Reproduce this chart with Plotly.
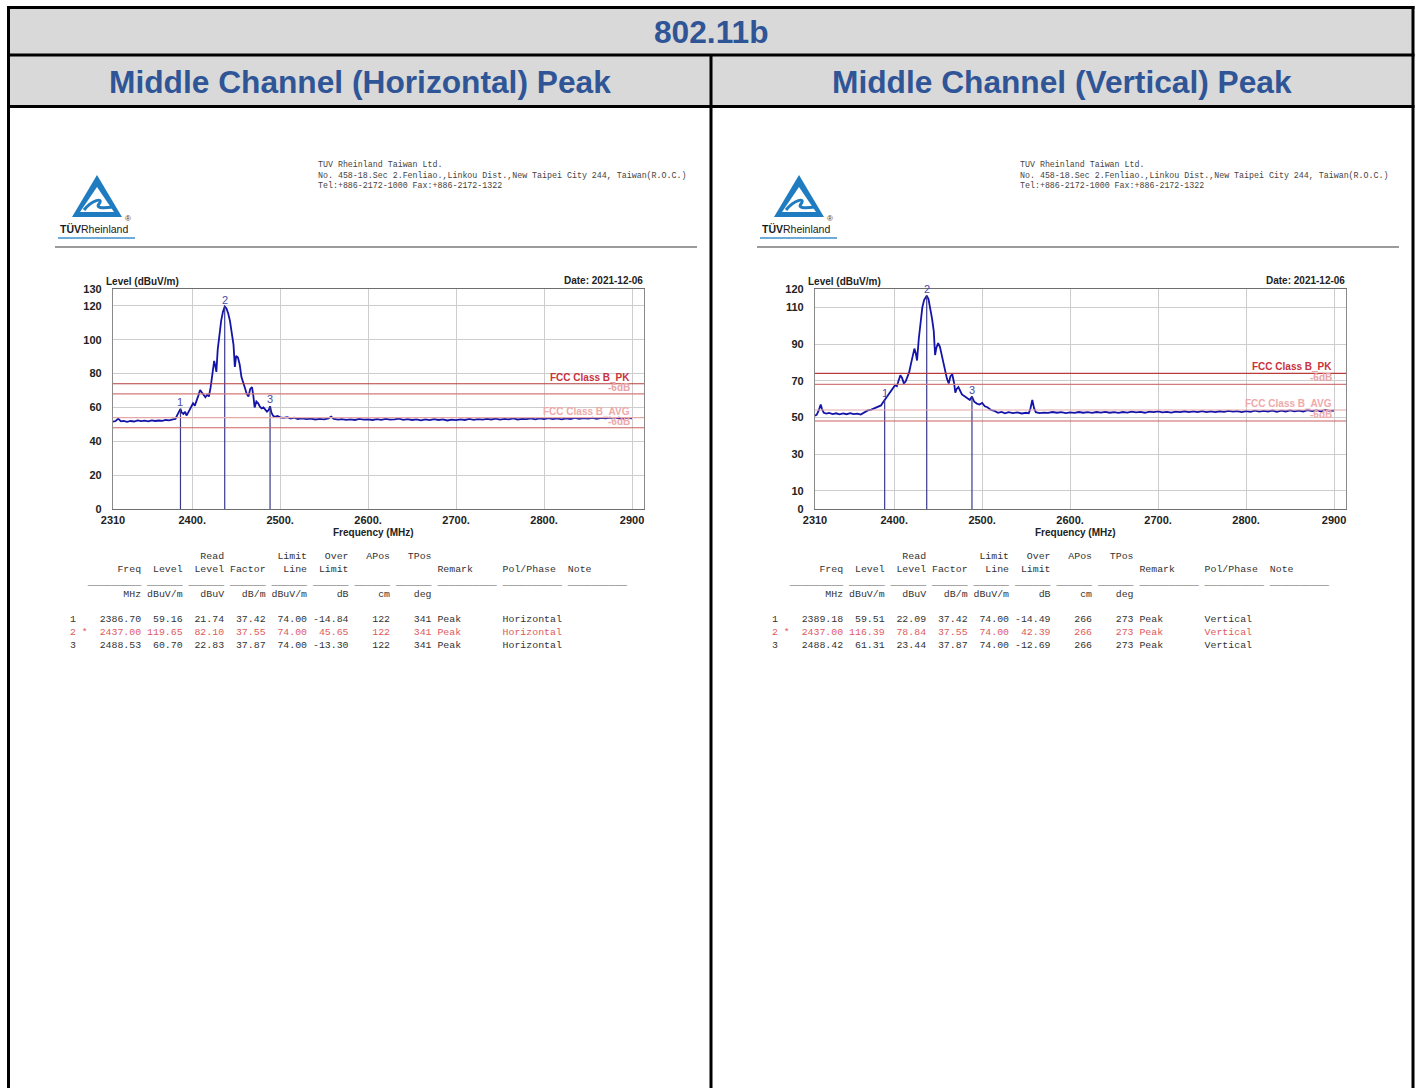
import plotly.graph_objects as go

W, H = 1416, 1088

# ---------------- spectrum data ----------------
freq_h = [2310, 2313, 2316, 2319, 2322, 2326, 2330, 2334, 2338, 2342, 2346, 2350, 2354, 2358,
          2362, 2366, 2370, 2374, 2378, 2381, 2383, 2385, 2386.7, 2388, 2390, 2392, 2393.5, 2395,
          2397, 2399, 2401, 2403, 2405, 2407, 2409, 2411, 2413, 2415, 2417, 2419, 2421, 2423,
          2425, 2426.5, 2427.5, 2429, 2431, 2433, 2435, 2437, 2439, 2441, 2443, 2445, 2447,
          2448.5, 2450, 2452, 2454, 2456, 2458, 2460, 2462, 2464, 2466, 2468, 2469.5, 2471,
          2473, 2475, 2477, 2479, 2481, 2483, 2485, 2487, 2488.53, 2490, 2492, 2494, 2497,
          2500, 2504, 2508, 2512, 2516, 2520, 2525, 2530, 2535, 2540, 2545, 2550, 2555, 2558,
          2561, 2566, 2570, 2575, 2580, 2585, 2590, 2595, 2600, 2605, 2610, 2615, 2620, 2625,
          2630, 2635, 2640, 2645, 2650, 2655, 2660, 2665, 2670, 2675, 2680, 2685, 2690, 2695,
          2700, 2705, 2710, 2715, 2720, 2725, 2730, 2735, 2740, 2745, 2750, 2755, 2760, 2765,
          2770, 2775, 2780, 2785, 2790, 2795, 2800, 2805, 2810, 2815, 2820, 2825, 2830, 2835,
          2840, 2845, 2850, 2855, 2860, 2865, 2870, 2875, 2880, 2885, 2890, 2895, 2900]
level_h = [51.6, 52.0, 53.4, 51.8, 52.1, 51.5, 52.0, 51.7, 52.3, 51.9, 52.2, 51.8, 52.4, 52.0,
           52.3, 52.1, 52.6, 52.4, 53.0, 53.2, 55.5, 57.5, 59.16, 57.0, 56.2, 57.5, 55.3, 56.5,
           58.5, 60.5, 62.5, 61.0, 63.5, 67.0, 70.3, 69.0, 67.5, 66.0, 67.5, 66.5, 72.0, 79.0,
           87.5, 84.0, 81.0, 94.0, 104.0, 111.5, 116.5, 119.65, 118.5, 115.5, 111.0, 104.5, 97.0,
           84.0, 90.5, 89.5, 85.5, 78.0, 74.0, 71.5, 68.0, 66.5, 71.0, 72.0, 67.0, 60.0,
           63.5, 62.5, 60.5, 59.5, 60.0, 58.5, 57.5, 58.5, 60.70, 57.0, 55.0, 54.5, 55.0,
           54.2, 53.8, 54.3, 53.5, 54.0, 53.2, 53.6, 53.1, 53.4, 52.9, 53.3, 53.0, 53.6, 54.6,
           53.2, 52.8, 53.1, 52.7, 53.0, 52.6, 53.2, 52.8, 53.0, 52.6, 53.1, 52.7, 53.3, 52.8,
           53.0, 53.4, 52.7, 53.1, 52.6, 53.0, 52.4, 52.9, 52.5, 53.1, 52.6, 52.9, 52.3, 52.8,
           52.5, 53.0, 52.6, 53.2, 52.7, 53.1, 52.8, 53.3, 52.9, 53.4, 52.8, 53.2, 53.0, 53.5,
           52.9, 53.3, 53.1, 53.6, 53.0, 53.5, 53.2, 53.7, 53.1, 53.5, 53.0, 53.6, 53.2, 53.8,
           53.3, 53.7, 53.4, 53.9, 53.3, 53.8, 53.5, 54.0, 53.6, 53.9, 53.4, 53.8, 53.5]

freq_v = [2310, 2312, 2314, 2316.5, 2318, 2320, 2323, 2326, 2330, 2334, 2338, 2342, 2346, 2350,
          2354, 2358, 2362, 2366, 2370, 2374, 2378, 2382, 2385, 2387, 2389.18, 2391, 2393, 2395,
          2397, 2399, 2401, 2403, 2405, 2407, 2409, 2411, 2413, 2415, 2417, 2419, 2421, 2423,
          2424.5, 2426, 2428, 2430, 2432, 2434, 2437, 2439, 2441, 2443, 2445, 2446.5, 2448,
          2450, 2452, 2454, 2456, 2458, 2460, 2462, 2464, 2466, 2468, 2469.5, 2471, 2473, 2475,
          2477, 2480, 2483, 2486, 2488.42, 2491, 2494, 2497, 2500, 2503, 2506, 2510, 2514, 2518,
          2522, 2526, 2530, 2535, 2540, 2545, 2550, 2553, 2555, 2557, 2559, 2561, 2565, 2570,
          2575, 2580, 2585, 2590, 2595, 2600, 2605, 2610, 2615, 2620, 2625, 2630, 2635, 2640,
          2645, 2650, 2655, 2660, 2665, 2670, 2675, 2680, 2685, 2690, 2695, 2700, 2705, 2710,
          2715, 2720, 2725, 2730, 2735, 2740, 2745, 2750, 2755, 2760, 2765, 2770, 2775, 2780,
          2785, 2790, 2795, 2800, 2805, 2810, 2815, 2820, 2825, 2830, 2835, 2840, 2845, 2850,
          2855, 2860, 2865, 2870, 2875, 2880, 2885, 2890, 2895, 2900]
level_v = [50.8, 51.5, 53.5, 57.0, 54.5, 52.5, 52.0, 52.4, 51.8, 52.2, 51.6, 52.1, 51.7, 52.3,
           51.8, 52.0, 51.5, 52.6, 53.8, 54.2, 55.0, 55.6, 56.5, 58.0, 59.51, 60.5, 62.0, 63.5,
           64.5, 66.0, 67.5, 67.0, 70.0, 73.0, 71.5, 68.5, 69.5, 72.5, 74.5, 79.0, 83.0, 87.5,
           85.0, 81.0, 93.0, 103.0, 110.0, 114.0, 116.39, 114.5, 110.0, 104.0, 97.0, 84.0, 88.0,
           90.5, 88.5, 84.0, 79.0, 74.5, 71.0, 68.5, 72.5, 73.5, 69.0, 63.5, 65.5, 66.5, 64.5,
           62.5, 61.5, 60.5, 59.5, 61.31, 58.5, 57.5, 57.0, 57.8, 56.0, 55.5, 54.0, 53.5, 52.5,
           53.0, 52.2, 52.8, 52.3, 52.7, 52.1, 52.5, 52.2, 55.0, 59.5, 55.0, 52.8, 52.3, 52.6,
           52.4, 52.9, 52.5, 52.8, 52.3, 52.7, 52.4, 52.9, 52.5, 52.8, 52.4, 52.9, 52.6, 53.0,
           52.5, 52.8, 52.4, 52.9, 52.6, 53.1, 52.7, 53.0, 52.5, 53.1, 52.8, 53.2, 52.7, 53.0,
           52.6, 53.1, 52.8, 53.3, 52.9, 53.2, 52.8, 53.4, 52.9, 53.2, 52.8, 53.3, 53.0, 53.5,
           53.1, 53.4, 52.9, 53.4, 53.0, 53.6, 53.1, 53.5, 53.2, 53.7, 53.0, 53.6, 53.2, 53.8,
           53.3, 53.7, 53.2, 53.9, 53.4, 53.8, 53.3, 54.0, 53.5, 53.7]

# ---------------- marker table data ----------------
mk_freq_h = [2386.70, 2437.00, 2488.53]
mk_level_h = [59.16, 119.65, 60.70]
mk_read_h = [21.74, 82.10, 22.83]
mk_over_h = [-14.84, 45.65, -13.30]
apos_h, tpos_h = 122, 341

mk_freq_v = [2389.18, 2437.00, 2488.42]
mk_level_v = [59.51, 116.39, 61.31]
mk_read_v = [22.09, 78.84, 23.44]
mk_over_v = [-14.49, 42.39, -12.69]
apos_v, tpos_v = 266, 273

mk_factor = [37.42, 37.55, 37.87]
mk_limit = [74.00, 74.00, 74.00]

limit_lines = [74, 68, 54, 48]
limit_colors = ["#b83c3c", "#d47a7a", "#e6a8a8", "#cc6060"]

xtick_vals = [2310, 2400, 2500, 2600, 2700, 2800, 2900]
xtick_text = ["2310", "2400.", "2500.", "2600.", "2700.", "2800.", "2900"]
ytick_h = [0, 20, 40, 60, 80, 100, 120, 130]
ytick_v = [0, 10, 30, 50, 70, 90, 110, 120]

BLUE_TITLE = "#2f5597"
SANS = "Liberation Sans, Arial, sans-serif"
MONO = "Liberation Mono, DejaVu Sans Mono, monospace"


def px(x):
    return x / W


def py(y):
    return 1 - y / H


fig = go.Figure()
shapes = []
ann = []


def text(x, y, s, size=10, color="#222", family=SANS, weight="normal", xanchor="left", yanchor="middle"):
    ann.append(dict(x=px(x), y=py(y), xref="paper", yref="paper", text=s.replace(" ", "\u00a0"),
                    showarrow=False, xanchor=xanchor, yanchor=yanchor,
                    font=dict(size=size, color=color, family=family, weight=weight)))


def hline(x0, x1, y, color, width):
    shapes.append(dict(type="line", xref="paper", yref="paper", x0=px(x0), x1=px(x1),
                       y0=py(y), y1=py(y), line=dict(color=color, width=width)))


def vline(x, y0, y1, color, width):
    shapes.append(dict(type="line", xref="paper", yref="paper", x0=px(x), x1=px(x),
                       y0=py(y0), y1=py(y1), line=dict(color=color, width=width)))


# ---------------- outer table ----------------
shapes.append(dict(type="rect", xref="paper", yref="paper", x0=px(8), x1=px(1413), y0=py(7), y1=py(106),
                   fillcolor="#d9d9d9", line=dict(width=0), layer="below"))
hline(7, 1414.5, 7.5, "#000", 3)
hline(7, 1414.5, 55, "#000", 3)
hline(7, 1414.5, 106.5, "#000", 3)
vline(8.5, 6, 1090, "#000", 3)
vline(1413, 6, 1090, "#000", 3)
vline(711, 55, 1090, "#000", 3)
text(711, 32, "802.11b", size=31.7, color=BLUE_TITLE, weight="bold", xanchor="center")
text(360, 82, "Middle Channel (Horizontal) Peak", size=31.7, color=BLUE_TITLE, weight="bold", xanchor="center")
text(1062, 82, "Middle Channel (Vertical) Peak", size=31.7, color=BLUE_TITLE, weight="bold", xanchor="center")


def fmt_row(right_items, left_items=()):
    buf = [" "] * 100
    for end, t in right_items:
        buf[end - len(t):end] = list(t)
    for start, t in left_items:
        buf[start:start + len(t)] = list(t)
    return "".join(buf).rstrip()


def panel(dx, xa, ya, freqs, levels, mfreq, mlevel, mread, mover, apos, tpos, pol):
    # header: logo + company address
    tri_outer = f"M {px(97+dx)},{py(175)} L {px(122+dx)},{py(217)} L {px(72+dx)},{py(217)} Z"
    shapes.append(dict(type="path", xref="paper", yref="paper", path=tri_outer,
                       fillcolor="#1f7cc0", line=dict(width=0)))
    tri_inner = f"M {px(97+dx)},{py(187)} L {px(114+dx)},{py(212)} L {px(80+dx)},{py(212)} Z"
    shapes.append(dict(type="path", xref="paper", yref="paper", path=tri_inner,
                       fillcolor="#ffffff", line=dict(width=0)))
    wave = (f"M {px(84+dx)},{py(210)} C {px(92+dx)},{py(200)} {px(104+dx)},{py(197)} {px(99+dx)},{py(204)} "
            f"C {px(95+dx)},{py(209)} {px(106+dx)},{py(208)} {px(113+dx)},{py(207)}")
    shapes.append(dict(type="path", xref="paper", yref="paper", path=wave,
                       line=dict(color="#1f7cc0", width=3)))
    ann.append(dict(x=px(58 + dx), y=py(229), xref="paper", yref="paper", showarrow=False,
                    xanchor="left", yanchor="middle",
                    text="<b>TÜV</b>Rheinland", font=dict(size=10.5, color="#1a1a1a", family=SANS)))
    text(128 + dx, 218, "®", size=8, color="#333", xanchor="center")
    hline(58 + dx, 135 + dx, 238, "#3d8fcf", 1.5)
    text(316 + dx, 165, "TUV Rheinland Taiwan Ltd.", size=8.3, color="#444", family=MONO)
    text(316 + dx, 175, "No. 458-18.Sec 2.Fenliao.,Linkou Dist.,New Taipei City 244, Taiwan(R.O.C.)",
         size=8.3, color="#444", family=MONO)
    text(316 + dx, 185, "Tel:+886-2172-1000 Fax:+886-2172-1322", size=8.3, color="#444", family=MONO)
    hline(55 + dx, 697 + dx, 247, "#7a7a7a", 1.5)

    # spectrum trace
    fig.add_trace(go.Scatter(x=freqs, y=levels, mode="lines", xaxis=xa, yaxis=ya,
                             line=dict(color="#1414a8", width=1.8), showlegend=False, hoverinfo="skip"))
    # marker drop lines
    mx, my = [], []
    for f, lv in zip(mfreq, mlevel):
        mx += [f, f, None]
        my += [0, lv, None]
    fig.add_trace(go.Scatter(x=mx, y=my, mode="lines", xaxis=xa, yaxis=ya,
                             line=dict(color="#3a3a8c", width=1.2), showlegend=False, hoverinfo="skip"))
    axn = xa.replace("x", "")
    xr = "x" + axn
    yr = "y" + axn
    for i, (f, lv) in enumerate(zip(mfreq, mlevel)):
        ann.append(dict(x=f, y=lv, xref=xr, yref=yr, text=str(i + 1), showarrow=False,
                        yanchor="bottom", xanchor="center", yshift=-1,
                        font=dict(size=11, color="#4b4ba6", family=SANS)))
    # limit lines
    for val, col in zip(limit_lines, limit_colors):
        shapes.append(dict(type="line", xref=xr + " domain", yref=yr, x0=0, x1=1, y0=val, y1=val,
                           line=dict(color=col, width=1.2)))
    lab = [("FCC Class B_PK", 74, "#c8323c"), ("-6dB", 68, "#e8a4a4"),
           ("FCC Class B_AVG", 54, "#eeaaaa"), ("-6dB", 48, "#eeaaaa")]
    for s, val, col in lab:
        ann.append(dict(x=2900, y=val, xref=xr, yref=yr, text=s, showarrow=False,
                        xanchor="right", yanchor="bottom", yshift=-1,
                        font=dict(size=10, color=col, family=SANS, weight="bold")))
    # chart captions
    text(104 + dx, 281, "Level (dBuV/m)", size=10, weight="bold")
    text(645 + dx, 280, "Date: 2021-12-06", size=10, weight="bold", xanchor="right")
    text(373 + dx, 532, "Frequency (MHz)", size=10, weight="bold", xanchor="center")

    # marker table
    x0 = 68 + dx
    ends = [12, 19, 26, 33, 40, 47, 54, 61]
    text(x0, 556, fmt_row([(26, "Read"), (40, "Limit"), (47, "Over"), (54, "APos"), (61, "TPos")]),
         size=9.9, color="#333", family=MONO)
    text(x0, 569, fmt_row(list(zip(ends[:6], ["Freq", "Level", "Level", "Factor", "Line", "Limit"])),
                          [(62, "Remark"), (73, "Pol/Phase"), (84, "Note")]),
         size=9.9, color="#333", family=MONO)
    under = fmt_row([(12, "_" * 9), (19, "_" * 6), (26, "_" * 6), (33, "_" * 6), (40, "_" * 6),
                     (47, "_" * 6), (54, "_" * 6), (61, "_" * 6), (72, "_" * 10), (83, "_" * 10),
                     (94, "_" * 10)])
    text(x0, 582, under, size=9.9, color="#333", family=MONO)
    text(x0, 594, fmt_row(list(zip(ends, ["MHz", "dBuV/m", "dBuV", "dB/m", "dBuV/m", "dB", "cm", "deg"]))),
         size=9.9, color="#333", family=MONO)
    for i in range(3):
        vals = [f"{mfreq[i]:.2f}", f"{mlevel[i]:.2f}", f"{mread[i]:.2f}", f"{mk_factor[i]:.2f}",
                f"{mk_limit[i]:.2f}", f"{mover[i]:.2f}", str(apos), str(tpos)]
        left = [(0, str(i + 1)), (62, "Peak"), (73, pol)]
        if i == 1:
            left.append((2, "*"))
        row = fmt_row(list(zip(ends, vals)), left)
        text(x0, 619 + 13 * i, row, size=9.9, color="#e05a5a" if i == 1 else "#333", family=MONO)


panel(0, "x", "y", freq_h, level_h, mk_freq_h, mk_level_h, mk_read_h, mk_over_h,
      apos_h, tpos_h, "Horizontal")
panel(702, "x2", "y2", freq_v, level_v, mk_freq_v, mk_level_v, mk_read_v, mk_over_v,
      apos_v, tpos_v, "Vertical")

xr_max = 2913.6
common_x = dict(range=[2310, xr_max], tickvals=xtick_vals, ticktext=xtick_text, showgrid=True,
                gridcolor="#cdcdcd", gridwidth=1, showline=True, mirror=True, linecolor="#6e6e6e",
                linewidth=1.2, ticks="", zeroline=False, ticklabelstandoff=1, automargin=False,
                tickfont=dict(family=SANS, size=11, color="#222", weight="bold"), fixedrange=True)
common_y = dict(showgrid=True, gridcolor="#cdcdcd", gridwidth=1, showline=True, mirror=True,
                linecolor="#8a8a8a", linewidth=1.2, ticks="", zeroline=False, ticklabelstandoff=8,
                automargin=False,
                tickfont=dict(family=SANS, size=11, color="#222", weight="bold"), fixedrange=True)

fig.update_layout(
    width=W, height=H, margin=dict(l=0, r=0, t=0, b=0, autoexpand=False),
    paper_bgcolor="white", plot_bgcolor="white", showlegend=False,
    xaxis=dict(domain=[px(113), px(644)], anchor="y", **common_x),
    yaxis=dict(domain=[py(509), py(289)], anchor="x", range=[0, 130], tickvals=ytick_h, **common_y),
    xaxis2=dict(domain=[px(815), px(1346)], anchor="y2", **common_x),
    yaxis2=dict(domain=[py(509), py(289)], anchor="x2", range=[0, 120], tickvals=ytick_v, **common_y),
    shapes=shapes, annotations=ann,
)

fig.write_html("out.html")
